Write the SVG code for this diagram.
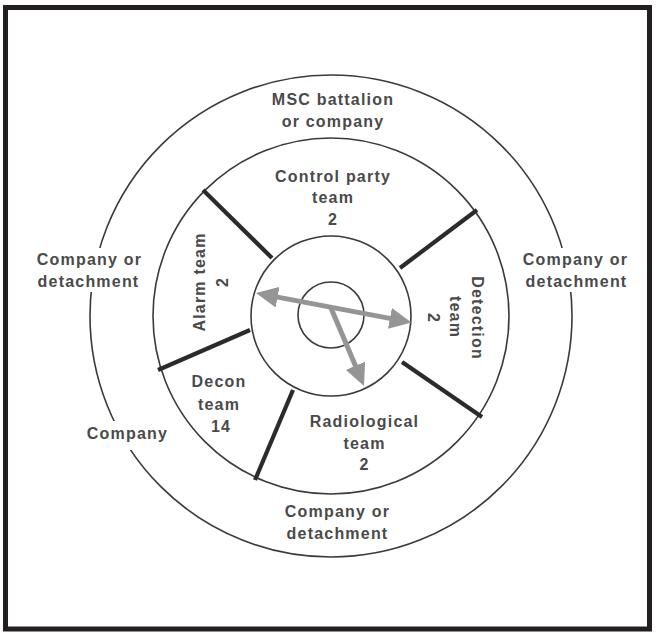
<svg xmlns="http://www.w3.org/2000/svg" width="656" height="633" viewBox="0 0 656 633">
  <style>
    .ring { fill: none; stroke: #3a3a3a; stroke-width: 1.6; }
    .div { stroke: #2b2b2b; stroke-width: 4.2; stroke-linecap: butt; }
    .t { font-family: "Liberation Sans", Arial, Helvetica, sans-serif; font-weight: bold; font-size: 16px; letter-spacing: 1.2px; fill: #4a4a4a; text-anchor: middle; }
    .arrow { stroke: #959595; stroke-width: 5; fill: none; }
    .bg { fill: #ffffff; stroke: none; }
  </style>
  <defs>
    <marker id="ah" markerUnits="userSpaceOnUse" markerWidth="22" markerHeight="21" refX="12" refY="10.5" orient="auto-start-reverse" viewBox="0 0 22 21">
      <path d="M0,0 L22,10.5 L0,21 Z" fill="#959595"/>
    </marker>
  </defs>

  <rect id="frame" x="5.5" y="7.5" width="644" height="621.5" fill="#ffffff" stroke="#231f20" stroke-width="5"/>

  <g id="rings">
    <circle class="ring" cx="331" cy="316" r="241"/>
    <circle class="ring" cx="331" cy="316" r="178"/>
    <circle class="ring" cx="331" cy="316" r="80"/>
    <circle class="ring" cx="331" cy="315" r="33"/>
  </g>

  <g id="dividers">
    <line class="div" x1="203" y1="190" x2="272" y2="258"/>
    <line class="div" x1="477" y1="210" x2="400" y2="268"/>
    <line class="div" x1="402" y1="362" x2="482" y2="417"/>
    <line class="div" x1="293" y1="390" x2="255" y2="480"/>
    <line class="div" x1="250" y1="330" x2="158" y2="370"/>
  </g>

  <g id="connectors">
    <line class="arrow" x1="265.8" y1="294.9" x2="401.7" y2="320.6" marker-start="url(#ah)" marker-end="url(#ah)"/>
    <line class="arrow" x1="331" y1="308" x2="360.1" y2="376.8" marker-end="url(#ah)"/>
  </g>

  <g id="msc-battalion">
    <text class="t" x="333" y="105">MSC battalion</text>
    <text class="t" x="333" y="126.5">or company</text>
  </g>

  <g id="company-detachment-left">
    <rect class="bg" x="32" y="248" width="114" height="44"/>
    <text class="t" x="89.5" y="265">Company or</text>
    <text class="t" x="88.5" y="287">detachment</text>
  </g>

  <g id="company-detachment-right">
    <rect class="bg" x="518" y="248" width="114" height="44"/>
    <text class="t" x="575.5" y="265">Company or</text>
    <text class="t" x="576.5" y="287">detachment</text>
  </g>

  <g id="company-left">
    <rect class="bg" x="82" y="421" width="90" height="29"/>
    <text class="t" x="127.5" y="439">Company</text>
  </g>

  <g id="company-detachment-bottom">
    <text class="t" x="337.5" y="517">Company or</text>
    <text class="t" x="337.5" y="539">detachment</text>
  </g>

  <g id="control-party-team">
    <text class="t" x="333" y="182">Control party</text>
    <text class="t" x="333" y="203">team</text>
    <text class="t" x="333" y="224.5">2</text>
  </g>

  <g id="alarm-team">
    <text class="t" transform="translate(205,282) rotate(-90)">Alarm team</text>
    <text class="t" transform="translate(228,282) rotate(-90)">2</text>
  </g>

  <g id="detection-team">
    <text class="t" transform="translate(472,318) rotate(90)">Detection</text>
    <text class="t" transform="translate(450,317) rotate(90)">team</text>
    <text class="t" transform="translate(428,318) rotate(90)">2</text>
  </g>

  <g id="decon-team">
    <text class="t" x="219" y="387">Decon</text>
    <text class="t" x="219" y="409.5">team</text>
    <text class="t" x="221" y="431.5">14</text>
  </g>

  <g id="radiological-team">
    <text class="t" x="364.5" y="427">Radiological</text>
    <text class="t" x="364.5" y="448.5">team</text>
    <text class="t" x="364.5" y="470">2</text>
  </g>
</svg>
